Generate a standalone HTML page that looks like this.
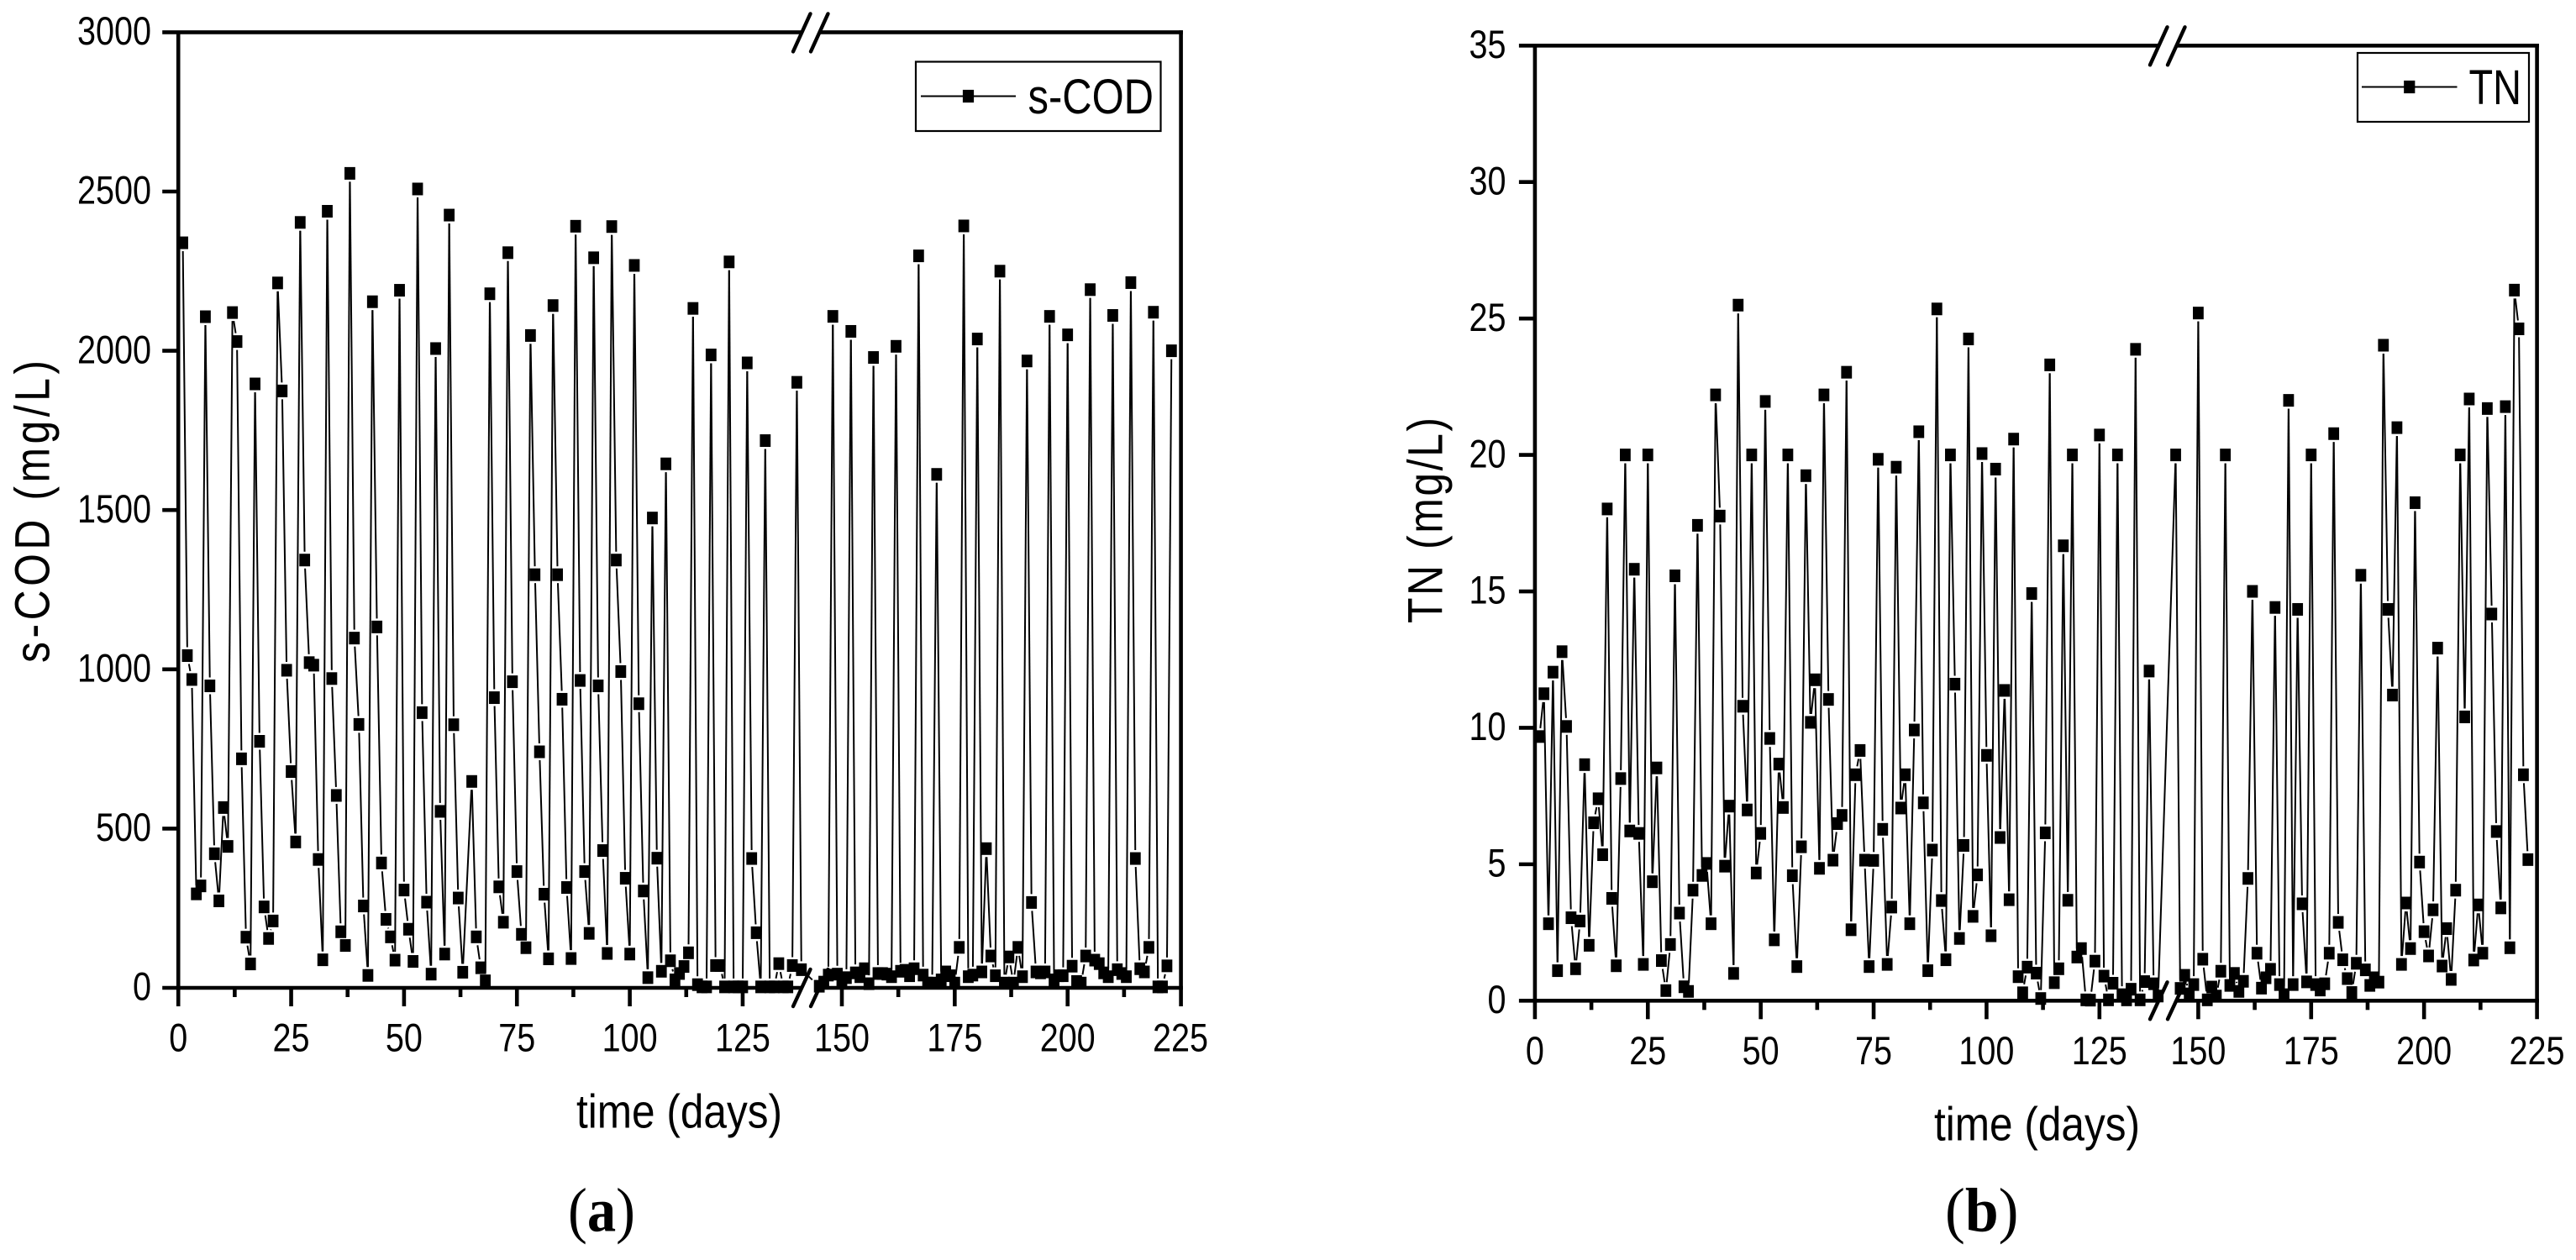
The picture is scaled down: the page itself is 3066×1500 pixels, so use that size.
<!DOCTYPE html>
<html lang="en">
<head>
<meta charset="utf-8">
<title>s-COD and TN over time</title>
<style>
html,body{margin:0;padding:0;background:#fff;}
svg{display:block;}
text{font-family:"Liberation Sans",sans-serif;fill:#000;}
.cap{font-family:"Liberation Serif",serif;}
</style>
</head>
<body>
<svg id="figure" xmlns="http://www.w3.org/2000/svg" width="3066" height="1500" viewBox="0 0 3066 1500"></svg>
<script>
// Shared axis values
const xMajorTicks = [0, 25, 50, 75, 100, 125, 150, 175, 200, 225];
const xMinorTicks = [12.5, 37.5, 62.5, 87.5, 112.5, 162.5, 187.5, 212.5];
const codYTicks = [0, 500, 1000, 1500, 2000, 2500, 3000];
const tnYTicks = [0, 5, 10, 15, 20, 25, 30, 35];

// Panel (a) s-COD, days 1-138, then days 145-223 (null = no sample)
const codBeforeBreak = [2339,1043,968,295,320,2107,948,421,273,566,444,2120,2029,719,159,75,1896,774,254,155,210,2213,1874,997,679,458,2403,1343,1021,1013,403,88,2438,971,604,176,133,2557,1098,827,257,39,2154,1133,392,215,160,87,2190,307,184,83,2508,864,269,43,2007,554,106,2426,826,282,49,null,648,160,63,22,2179,911,317,206,2308,961,365,168,126,2048,1297,741,294,91,2142,1297,906,315,92,2391,965,365,171,2292,948,431,108,2390,1343,993,344,106,2268,892,304,32,1475,407,52,1645,85,25,45,67,110,2133,10,3,3,1987,70,70,3,2279,3,3,3,1962,406,173,3,1718,3,3,76,3,3,70,1901,57];
const codAfterBreak = [5,18,40,2108,43,25,32,2061,47,35,60,13,1979,45,45,43,35,2014,52,55,38,60,2298,40,15,15,1612,25,50,38,15,127,2392,35,40,2037,50,437,100,38,2250,15,97,15,127,35,1968,268,50,47,50,2108,25,38,38,2050,68,20,15,100,2192,87,76,47,35,2111,57,45,35,2214,406,60,50,127,2121,3,3,69,2000];

// Panel (b) TN, days 1-138, then days 145-223
const tnBeforeBreak = [9.68,11.25,2.82,12.04,1.10,12.79,10.05,3.04,1.17,2.92,8.65,2.03,6.52,7.40,5.35,18.02,3.75,1.28,8.14,20.0,6.22,15.81,6.13,1.33,20.0,4.36,8.53,1.47,0.37,2.06,15.57,3.21,0.51,0.34,4.05,17.42,4.59,5.03,2.82,22.2,17.76,4.93,7.13,1.0,25.49,10.79,6.99,20.0,4.68,6.13,21.96,9.61,2.23,8.67,7.08,20.0,4.58,1.25,5.64,19.24,10.2,11.76,4.85,22.2,11.04,5.15,6.49,6.79,23.03,2.6,8.28,9.17,5.15,1.25,5.14,19.84,6.28,1.33,3.43,19.55,7.06,8.28,2.82,9.92,20.85,7.25,1.1,5.52,25.35,3.67,1.5,20.0,11.6,2.28,5.69,24.25,3.09,4.61,20.05,8.99,2.38,19.48,5.98,11.37,3.7,20.58,0.88,0.29,1.23,14.92,1.01,0.08,6.15,23.3,0.66,1.17,16.67,3.68,20.0,1.6,1.91,0.03,0.02,1.45,20.73,0.9,0.03,0.64,20.0,0.22,0.03,0.42,23.87,0.03,0.7,12.08,0.62,0.17];
const tnAfterBreak = [20.0,0.45,0.93,0.25,0.59,25.2,1.52,0.03,0.5,0.17,1.08,20.0,0.56,1.0,0.34,0.71,4.48,15.0,1.74,0.46,0.84,1.15,14.41,0.59,0.22,22.0,0.59,14.34,3.55,0.69,20.0,0.59,0.39,0.62,1.74,20.78,2.87,1.5,0.81,0.3,1.37,15.59,1.13,0.56,0.84,0.68,24.02,14.34,11.2,21.0,1.33,3.58,1.91,18.25,5.08,2.53,1.64,3.33,12.92,1.27,2.64,0.78,4.05,20.0,10.4,22.05,1.49,3.51,1.74,21.7,14.17,6.2,3.4,21.77,1.94,26.04,24.62,8.28,5.17];

const SVG_NS = 'http://www.w3.org/2000/svg';
const root = document.getElementById('figure');

function make(parent, tag, attrs, txt) {
  const el = document.createElementNS(SVG_NS, tag);
  for (const k in attrs) el.setAttribute(k, attrs[k]);
  if (txt !== undefined) el.textContent = txt;
  parent.appendChild(el);
  return el;
}

function seriesPoints(before, after, firstAfterDay) {
  const pts = [];
  before.forEach(function (v, i) { if (v !== null) pts.push({ d: i + 1, v: v }); });
  after.forEach(function (v, i) { if (v !== null) pts.push({ d: firstAfterDay + i, v: v }); });
  return pts;
}

function trimSegment(a, b, hx, hy) {
  const dx = b.x - a.x, dy = b.y - a.y;
  const exit = Math.min(dx === 0 ? Infinity : hx / Math.abs(dx), dy === 0 ? Infinity : hy / Math.abs(dy));
  if (exit >= 0.5) return null;
  return { x1: a.x + dx * exit, y1: a.y + dy * exit, x2: b.x - dx * exit, y2: b.y - dy * exit };
}

function drawPanel(p) {
  const g = make(root, 'g', {});
  
  

  const xScale = function (d) {
    return d < 141 ? p.x0 + (d / 25) * p.xStep : p.x150 + ((d - 150) / 25) * p.xStep;
  };
  const yScale = function (v) {
    return p.yBottom - (v / p.yMax) * (p.yBottom - p.yTop);
  };

  // series
  const series = make(g, 'g', { stroke: '#000', 'stroke-width': 2, fill: '#000' });
  
  
  const pts = seriesPoints(p.before, p.after, 145).map(function (q) {
    return { x: xScale(q.d), y: yScale(q.v) };
  });
  for (let i = 0; i < pts.length - 1; i++) {
    const s = trimSegment(pts[i], pts[i + 1], 8.3, 10);
    if (!s) continue;
    const seg = make(series, 'line', s);
    
    
  }
  pts.forEach(function (q) {
    const m = make(series, 'rect', { x: q.x - 6.4, y: q.y - 7.5, width: 12.8, height: 15, stroke: 'none' });
    
    
  });

  // axes
  const axisAttrs = { stroke: '#000', 'stroke-width': 4.6, fill: 'none' };
  const breakL = p.breakX + 9, breakR = p.breakX + 31;
  const axes = make(g, 'g', axisAttrs);
  
  

  const leftAxis = make(axes, 'line', { x1: p.x0, y1: p.yTop, x2: p.x0, y2: p.yBottom + 22 });
  
  
  const rightAxis = make(axes, 'line', { x1: p.x1, y1: p.yTop - 2.3, x2: p.x1, y2: p.yBottom + 22 });
  
  
  [[p.yTop, 'top-axis'], [p.yBottom, 'x-axis']].forEach(function (row) {
    const a = make(axes, 'line', { x1: p.x0 - 19, y1: row[0], x2: breakL, y2: row[0] });
    
    
    const b = make(axes, 'line', { x1: breakR, y1: row[0], x2: p.x1 + 2.3, y2: row[0] });
    
    
  });

  // axis-break marks
  [[p.yTop - 22, p.yTop + 23], [p.yBottom - 22, p.yBottom + 22]].forEach(function (row) {
    [0, 21].forEach(function (off) {
      const sl = make(axes, 'line', {
        x1: p.breakX + off, y1: row[1], x2: p.breakX + off + 20.5, y2: row[0],
        'stroke-width': 4.4, 'stroke-linecap': 'round'
      });
      
      
    });
  });

  // y ticks
  p.yTicks.forEach(function (v) {
    const y = yScale(v);
    if (v > 0 && v < p.yMax) {
      const t = make(axes, 'line', { x1: p.x0 - 19, y1: y, x2: p.x0, y2: y });
      
      
    }
    const label = String(v);
    const txt = make(g, 'text', {
      x: p.yLabelRight, y: y + 14.7, 'font-size': 47, 'text-anchor': 'end',
      textLength: label.length * 22, lengthAdjust: 'spacingAndGlyphs'
    }, label);
    
    
  });

  // x ticks
  xMajorTicks.forEach(function (d) {
    const x = xScale(d);
    if (d > 0 && d < 225) {
      const t = make(axes, 'line', { x1: x, y1: p.yBottom, x2: x, y2: p.yBottom + 22 });
      
      
    }
    const label = String(d);
    const txt = make(g, 'text', {
      x: x, y: p.xLabelBase, 'font-size': 47, 'text-anchor': 'middle',
      textLength: label.length * 22, lengthAdjust: 'spacingAndGlyphs'
    }, label);
    
    
  });
  xMinorTicks.forEach(function (d) {
    const x = xScale(d);
    const t = make(axes, 'line', { x1: x, y1: p.yBottom, x2: x, y2: p.yBottom + 11 });
    
    
  });

  // titles
  const xTitle = make(g, 'text', {
    x: p.xTitleX, y: p.xTitleY, 'font-size': 57, textLength: 245, lengthAdjust: 'spacingAndGlyphs'
  }, 'time (days)');
  
  

  // y title: glyphs are condensed 0.86 along the baseline and the remainder is letter-spacing
  const yTitle = make(g, 'text', {
    x: 0, y: 0, 'font-size': 58, textLength: p.yTitleLen / 0.86, lengthAdjust: 'spacing',
    transform: 'translate(' + p.yTitleX + ',' + p.yTitleStart + ') rotate(-90) scale(0.86,1)'
  }, p.yTitle);
  
  

  // legend
  const lg = make(g, 'g', {});
  
  
  const L = p.legend;
  const box = make(lg, 'rect', { x: L.x, y: L.y, width: L.w, height: L.h, fill: '#fff', stroke: '#000', 'stroke-width': 2.2 });
  
  
  const ll = make(lg, 'line', { x1: L.lx1, y1: L.ly, x2: L.lx2, y2: L.ly, stroke: '#000', 'stroke-width': 2 });
  
  
  const lm = make(lg, 'rect', { x: (L.lx1 + L.lx2) / 2 - 6.6, y: L.ly - 7.6, width: 13.2, height: 15.2, fill: '#000' });
  
  
  const lt = make(lg, 'text', { x: L.tx, y: L.ty, 'font-size': 58, textLength: L.tw, lengthAdjust: 'spacingAndGlyphs' }, L.label);
  
  

  // caption
  const cap = make(g, 'text', { class: 'cap', x: p.capX, y: 1465.5, 'font-size': 74, textLength: p.capW, lengthAdjust: 'spacingAndGlyphs' });
  
  
  make(cap, 'tspan', {}, '(');
  make(cap, 'tspan', { 'font-weight': 'bold' }, p.capLetter);
  make(cap, 'tspan', {}, ')');
}

drawPanel({
  key: 'cod', before: codBeforeBreak, after: codAfterBreak, yTicks: codYTicks, yMax: 3000,
  x0: 212.2, x1: 1405.6, x150: 1002, xStep: 134.35, breakX: 944,
  yTop: 38.4, yBottom: 1176, yLabelRight: 180, xLabelBase: 1251.5,
  xTitleX: 686, xTitleY: 1342.5, yTitle: 's-COD (mg/L)', yTitleX: 58.5, yTitleStart: 789, yTitleLen: 360,
  legend: { x: 1090, y: 73.5, w: 291.5, h: 82.5, lx1: 1096, lx2: 1209, ly: 114.5, tx: 1223.5, ty: 135, tw: 149.5, label: 's-COD' },
  capX: 676, capW: 80, capLetter: 'a'
});

drawPanel({
  key: 'tn', before: tnBeforeBreak, after: tnAfterBreak, yTicks: tnYTicks, yMax: 35,
  x0: 1826.9, x1: 3019.6, x150: 2616.4, xStep: 134.38, breakX: 2559,
  yTop: 54.3, yBottom: 1191.3, yLabelRight: 1792.5, xLabelBase: 1267,
  xTitleX: 2302, xTitleY: 1357.5, yTitle: 'TN (mg/L)', yTitleX: 1716.5, yTitleStart: 742, yTitleLen: 245,
  legend: { x: 2806, y: 63, w: 204, h: 82, lx1: 2811, lx2: 2924.5, ly: 103.5, tx: 2938.5, ty: 124.2, tw: 62.5, label: 'TN' },
  capX: 2315, capW: 87.5, capLetter: 'b'
});
</script>
</body>
</html>
